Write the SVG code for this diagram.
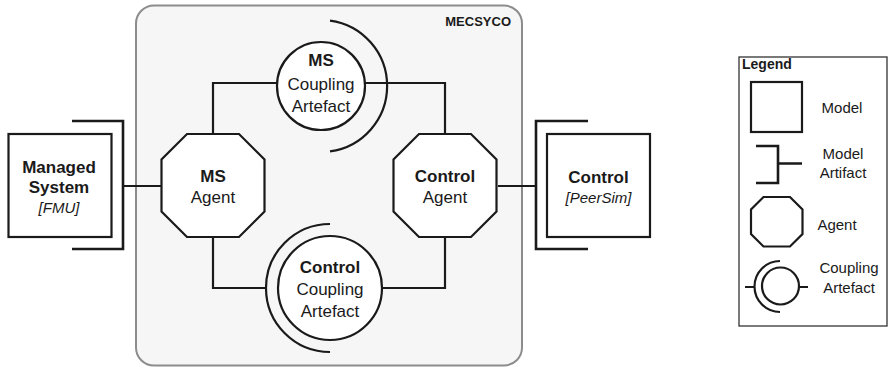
<svg xmlns="http://www.w3.org/2000/svg" width="890" height="370" viewBox="0 0 890 370">
  <style>
    .shape { fill: #ffffff; stroke: #1a1a1a; stroke-width: 2.2; }
    .line { fill: none; stroke: #1a1a1a; stroke-width: 2.2; }
    .bracket { fill: none; stroke: #1a1a1a; stroke-width: 2.6; }
    text { font-family: "Liberation Sans", Arial, sans-serif; fill: #1a1a1a; text-anchor: middle; }
    .b { font-weight: bold; font-size: 17px; }
    .n { font-size: 17px; }
    .i { font-style: italic; font-size: 15px; }
    .lg { font-size: 15px; }
  </style>

  <!-- MECSYCO container -->
  <g id="mecsyco">
    <rect x="136" y="5.5" width="386" height="360" rx="18" fill="#f6f6f6" stroke="#8c8c8c" stroke-width="2"/>
    <text x="511" y="26" style="font-weight:bold;font-size:13px;text-anchor:end">MECSYCO</text>
  </g>

  <!-- connectors -->
  <g id="connectors">
    <path class="line" d="M123 186 H161"/>
    <path class="line" d="M498 186 H536"/>
    <path class="line" d="M213 134 V83 H277"/>
    <path class="line" d="M365 83 H445 V134"/>
    <path class="line" d="M213 237 V288 H266"/>
    <path class="line" d="M382 288 H445 V237"/>
  </g>

  <!-- Managed System model -->
  <g id="managed-system">
    <rect class="shape" x="8.5" y="134" width="103" height="103"/>
    <path class="bracket" d="M72 121 H123 V249 H72"/>
    <text class="b" x="59" y="173">Managed</text>
    <text class="b" x="59" y="193">System</text>
    <text class="i" x="59" y="213">[FMU]</text>
  </g>

  <!-- MS Agent -->
  <g id="ms-agent">
    <polygon class="shape" points="187,134 239,134 264.5,159.5 264.5,211.5 239,237 187,237 161.5,211.5 161.5,159.5"/>
    <text class="b" x="213" y="182">MS</text>
    <text class="n" x="213" y="203">Agent</text>
  </g>

  <!-- MS Coupling Artefact -->
  <g id="ms-coupling">
    <circle class="shape" cx="321" cy="86" r="44"/>
    <path class="line" d="M330 20.6 A66 66 0 0 1 330 151.4"/>
    <text class="b" x="321" y="66">MS</text>
    <text class="n" x="321" y="90">Coupling</text>
    <text class="n" x="321" y="112">Artefact</text>
  </g>

  <!-- Control Agent -->
  <g id="control-agent">
    <polygon class="shape" points="419,134 471,134 496.5,159.5 496.5,211.5 471,237 419,237 393.5,211.5 393.5,159.5"/>
    <text class="b" x="445" y="182">Control</text>
    <text class="n" x="445" y="203">Agent</text>
  </g>

  <!-- Control Coupling Artefact -->
  <g id="control-coupling">
    <circle class="shape" cx="330" cy="288" r="52"/>
    <path class="line" d="M330 224 A64 64 0 0 0 330 352"/>
    <text class="b" x="330" y="273">Control</text>
    <text class="n" x="330" y="295">Coupling</text>
    <text class="n" x="330" y="317">Artefact</text>
  </g>

  <!-- Control model -->
  <g id="control-model">
    <rect class="shape" x="547" y="134" width="103" height="103"/>
    <path class="bracket" d="M588 121 H536 V249 H588"/>
    <text class="b" x="598.5" y="183">Control</text>
    <text class="i" x="598.5" y="203">[PeerSim]</text>
  </g>

  <!-- Legend -->
  <g id="legend">
    <rect x="739" y="57" width="148" height="269" fill="#ffffff" stroke="#333333" stroke-width="1.3"/>
    <text x="742" y="69" style="font-weight:bold;font-size:14px;text-anchor:start">Legend</text>
    <rect class="shape" x="751" y="82" width="51" height="50"/>
    <text class="lg" x="842" y="113">Model</text>
    <path class="bracket" d="M756 146 H778 V183 H756 M778 163.5 H802"/>
    <text class="lg" x="843" y="159">Model</text>
    <text class="lg" x="843" y="178">Artifact</text>
    <polygon class="shape" points="763.5,197 790,197 802.5,209.5 802.5,234 790,246.5 763.5,246.5 751,234 751,209.5"/>
    <text class="lg" x="837" y="230">Agent</text>
    <circle class="shape" cx="780.5" cy="286" r="18.5"/>
    <path class="line" d="M780 261 A25.5 25.5 0 0 0 780 312 M745 287 H755 M799 287 H808"/>
    <text class="lg" x="849" y="273">Coupling</text>
    <text class="lg" x="849" y="293">Artefact</text>
  </g>
</svg>
